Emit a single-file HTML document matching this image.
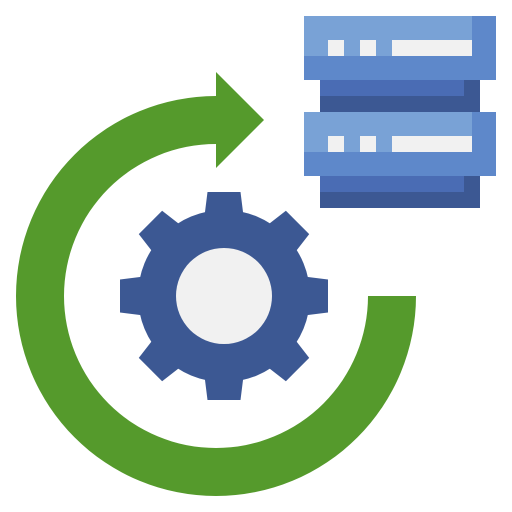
<!DOCTYPE html>
<html><head><style>html,body{margin:0;padding:0;background:#fff}svg{display:block}</style></head>
<body>
<svg width="512" height="512" viewBox="0 0 512 512" xmlns="http://www.w3.org/2000/svg">
<path d="M416,296 A200,200 0 1 1 216,96 L216,72 L264,120 L216,168 L216,144 A152,152 0 1 0 368,296 Z" fill="#559a2c"/>
<g transform="translate(224,296)" fill="#3c5893">
<circle r="86"/>
<g id="t"><path d="M-16.5,-104 L16.5,-104 L19.5,-80 L-19.5,-80 Z"/></g>
<use href="#t" transform="rotate(45)"/>
<use href="#t" transform="rotate(90)"/>
<use href="#t" transform="rotate(135)"/>
<use href="#t" transform="rotate(180)"/>
<use href="#t" transform="rotate(225)"/>
<use href="#t" transform="rotate(270)"/>
<use href="#t" transform="rotate(315)"/>
<circle r="48" fill="#f1f1f1"/>
</g>
<g id="s">
<rect x="304" y="16" width="192" height="64" fill="#5e88ca"/>
<rect x="304" y="16" width="168" height="40" fill="#79a2d6"/>
<rect x="328" y="40" width="16" height="16" fill="#f1f1f1"/>
<rect x="360" y="40" width="16" height="16" fill="#f1f1f1"/>
<rect x="392" y="40" width="80" height="16" fill="#f1f1f1"/>
<rect x="320" y="80" width="160" height="32" fill="#3c5893"/>
<rect x="320" y="80" width="144" height="16" fill="#4a6cb4"/>
</g>
<use href="#s" transform="translate(0,96)"/>
</svg>
</body></html>
